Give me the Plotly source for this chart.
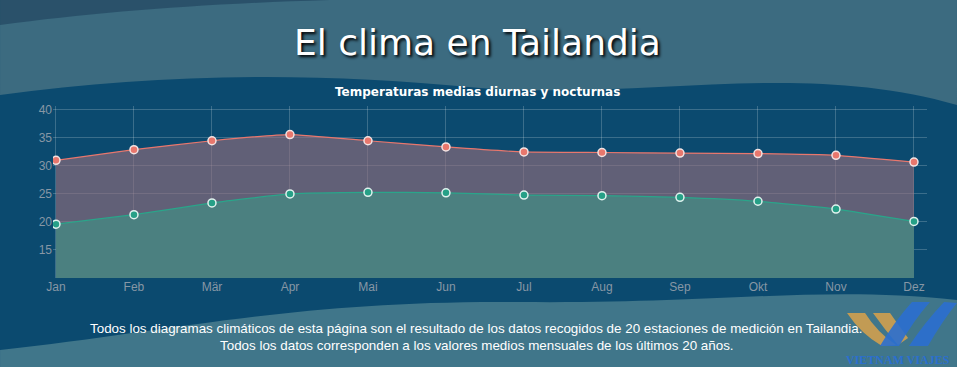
import plotly.graph_objects as go

months = ["Jan", "Feb", "Mär", "Apr", "Mai", "Jun", "Jul", "Aug", "Sep", "Okt", "Nov", "Dez"]
day_temp = [31.0, 32.9, 34.5, 35.6, 34.5, 33.4, 32.5, 32.4, 32.3, 32.2, 31.9, 30.7]
night_temp = [19.6, 21.3, 23.4, 25.0, 25.3, 25.2, 24.8, 24.7, 24.4, 23.7, 22.3, 20.1]
y_ticks = [15, 20, 25, 30, 35, 40]

W, H = 957, 367
L, R, T, B = 53, 30, 106, 89

def px(x, y):
    return (x - L) / (W - L - R), (H - B - y) / (H - T - B)

def path(pts):
    s = ""
    for cmd, coords in pts:
        s += cmd
        for (x, y) in coords:
            a, b = px(x, y)
            s += f" {a:.4f},{b:.4f}"
        s += " "
    return s + "Z"

x_idx = list(range(len(months)))

fig = go.Figure()
fig.add_trace(go.Scatter(
    x=x_idx, y=day_temp, mode="lines+markers", line=dict(color="#e8776d", width=1.2, shape="spline", smoothing=0.4),
    fill="tozeroy", fillcolor="rgba(150,110,125,0.62)",
    marker=dict(size=8, color="#e8776d", line=dict(color="#f2e4e4", width=1.5)), hoverinfo="skip"))
fig.add_trace(go.Scatter(
    x=x_idx, y=night_temp, mode="lines+markers", line=dict(color="#2aa58a", width=1.2, shape="spline", smoothing=0.4),
    fill="tozeroy", fillcolor="rgba(75,128,128,1)",
    marker=dict(size=8, color="#26a087", line=dict(color="#e0f2ee", width=1.5)), hoverinfo="skip"))

def bg(fill, pts, layer="below", opacity=1.0):
    return dict(type="path", xref="paper", yref="paper", layer=layer, line=dict(width=0),
                fillcolor=fill, opacity=opacity, path=path(pts))

shapes = [
    bg("#3c6b80", [("M", [(0, 0)]), ("L", [(0, 95)]),
                   ("C", [(150, 75), (300, 70), (480, 88)]),
                   ("C", [(650, 100), (800, 60), (957, 105)]),
                   ("L", [(957, 0)])]),
    bg("rgba(20,50,80,0.45)", [("M", [(0, 0)]), ("L", [(0, 25)]),
                               ("C", [(100, 12), (200, 4), (330, 0)])]),
    bg("#40768a", [("M", [(0, 367)]), ("L", [(0, 350)]),
                   ("C", [(180, 330), (300, 300), (520, 302)]),
                   ("C", [(720, 304), (820, 285), (957, 300)]),
                   ("L", [(957, 367)])]),
    # watermark logo
    bg("#d9a24a", [("M", [(847, 313)]), ("L", [(865, 313)]), ("Q", [(877, 332), (896, 345)]),
                   ("L", [(882, 346)]), ("Q", [(861, 334), (847, 313)])], layer="above", opacity=0.85),
    bg("#d9a24a", [("M", [(873, 313)]), ("L", [(890, 313)]), ("Q", [(899, 326), (908, 338)]),
                   ("L", [(898, 345)]), ("Q", [(885, 330), (873, 313)])], layer="above", opacity=0.85),
    bg("#2b6fcf", [("M", [(880, 346)]), ("L", [(899, 346)]), ("Q", [(914, 320), (930, 302)]),
                   ("L", [(912, 302)]), ("Q", [(894, 322), (880, 346)])], layer="above", opacity=0.9),
    bg("#2b6fcf", [("M", [(909, 346)]), ("L", [(928, 346)]), ("Q", [(943, 320), (957, 303)]),
                   ("L", [(944, 302)]), ("Q", [(925, 322), (909, 346)])], layer="above", opacity=0.9),
]

fig.update_layout(
    width=W, height=H,
    margin=dict(l=L, r=R, t=T, b=B),
    paper_bgcolor="#0b4a6f",
    plot_bgcolor="rgba(0,0,0,0)",
    showlegend=False,
    hovermode=False,
    shapes=shapes,
    xaxis=dict(range=[-0.038, 11.167], tickmode="array", tickvals=x_idx, ticktext=months,
               showgrid=True, gridcolor="rgba(255,255,255,0.2)", gridwidth=1, zeroline=False,
               tickfont=dict(family="Liberation Sans, Arial", size=12, color="#8797a5"), ticks="", fixedrange=True),
    yaxis=dict(range=[10, 40.7], tickmode="array", tickvals=y_ticks, ticktext=[str(v) for v in y_ticks],
               showgrid=True, gridcolor="rgba(255,255,255,0.2)", gridwidth=1, zeroline=False,
               tickfont=dict(family="Liberation Sans, Arial", size=12, color="#8797a5"), ticks="", ticklen=6, fixedrange=True),
    annotations=[
        dict(text="El clima en Tailandia", showarrow=False,
             font=dict(family="DejaVu Sans", size=36, color="white", shadow="2px 2px 3px #000000")),
        dict(text="<b>Temperaturas medias diurnas y nocturnas</b>", showarrow=False,
             font=dict(family="DejaVu Sans", size=12, color="white")),
        dict(text="Todos los diagramas climáticos de esta página son el resultado de los datos recogidos de 20 estaciones de medición en Tailandia.",
             showarrow=False, font=dict(family="Liberation Sans, Arial", size=13.4, color="white")),
        dict(text="Todos los datos corresponden a los valores medios mensuales de los últimos 20 años.",
             showarrow=False, font=dict(family="Liberation Sans, Arial", size=13.4, color="white")),
        dict(text="<b>VIETNAM VIAJES</b>", showarrow=False, font=dict(family="Liberation Serif", size=12, color="#2b6fcf")),
    ],
)

pos = [(477, 42), (477, 92), (476, 328), (477, 345), (898, 360)]
for ann, (x, y) in zip(fig.layout.annotations, pos):
    a, b = px(x, y)
    ann.x = a
    ann.y = b
    ann.xref = "paper"
    ann.yref = "paper"
    ann.xanchor = "center"
    ann.yanchor = "middle"

fig.write_html("out.html", config={"displayModeBar": False, "staticPlot": True},
               post_script="document.body.style.margin='0';document.body.style.overflow='hidden';")
